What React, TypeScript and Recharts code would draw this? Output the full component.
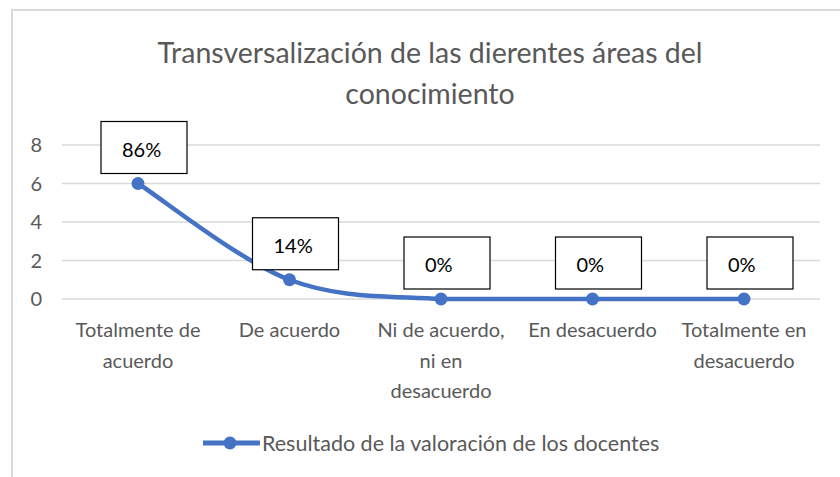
import { CartesianGrid, LabelList, Line, LineChart, XAxis, YAxis } from 'recharts';

const categories = [
  'Totalmente de\nacuerdo',
  'De acuerdo',
  'Ni de acuerdo,\nni en\ndesacuerdo',
  'En desacuerdo',
  'Totalmente en\ndesacuerdo',
];
const valores = [6, 1, 0, 0, 0];
const porcentajes = ['86%', '14%', '0%', '0%', '0%'];
const yTicks = [0, 2, 4, 6, 8];

const seriesName = 'Resultado de la valoración de los docentes';
const titleLines = ['Transversalización de las dierentes áreas del', 'conocimiento'];

const data = categories.map((name, i) => ({ name, value: valores[i], label: porcentajes[i] }));

const FONT = 'Lato, "Noto Sans", sans-serif';
const GRAY = '#595959';
const BLUE = '#4472C4';

const clamp = (v: number, a: number, b: number) => Math.min(Math.max(v, Math.min(a, b)), Math.max(a, b));

// smoothed line like the office "smooth line" option (catmull-rom as bezier, no overshoot)
const smoothCurve = (context: any) => {
  let pts: number[][] = [];
  return {
    areaStart() {},
    areaEnd() {},
    lineStart() {
      pts = [];
    },
    point(x: number, y: number) {
      pts.push([+x, +y]);
    },
    lineEnd() {
      const n = pts.length;
      if (!n) return;
      context.moveTo(pts[0][0], pts[0][1]);
      for (let i = 0; i < n - 1; i++) {
        const p0 = pts[Math.max(i - 1, 0)];
        const p1 = pts[i];
        const p2 = pts[i + 1];
        const p3 = pts[Math.min(i + 2, n - 1)];
        context.bezierCurveTo(
          p1[0] + (p2[0] - p0[0]) / 6,
          clamp(p1[1] + (p2[1] - p0[1]) / 6, p1[1], p2[1]),
          p2[0] - (p3[0] - p1[0]) / 6,
          clamp(p2[1] - (p3[1] - p1[1]) / 6, p1[1], p2[1]),
          p2[0],
          p2[1],
        );
      }
    },
  };
};

const CategoryTick = (props: any) => {
  const { x, y, payload } = props;
  const lines = String(payload.value).split('\n');
  return (
    <text x={x} y={y} textAnchor="middle" fill={GRAY} fontFamily={FONT} fontSize={20}>
      {lines.map((line, i) => (
        <tspan key={i} x={x} dy={i === 0 ? 30 : 30.5}>
          {line}
        </tspan>
      ))}
    </text>
  );
};

const BoxLabel = (props: any) => {
  const { x, y, value } = props;
  const w = 86;
  const h = 52;
  const left = x - 37;
  const top = y - 62;
  return (
    <g>
      <rect x={left} y={top} width={w} height={h} fill="#fff" stroke="#000" strokeWidth={1.2} />
      <text x={left + 21} y={top + 27} dominantBaseline="central" fill="#000" fontFamily={FONT} fontSize={20}>
        {value}
      </text>
    </g>
  );
};

const App = () => {
  return (
    <div style={{ position: 'absolute', left: 0, top: 0, width: 840, height: 477, background: '#fff', overflow: 'hidden' }}>
      <div
        style={{
          position: 'absolute',
          left: 11,
          top: 9,
          right: -10,
          bottom: -10,
          borderTop: '2px solid #d9d9d9',
          borderLeft: '2px solid #d9d9d9',
        }}
      />
      <div
        style={{
          position: 'absolute',
          left: 0,
          top: 32,
          width: 860,
          textAlign: 'center',
          fontFamily: FONT,
          fontSize: 28.5,
          lineHeight: '41px',
          color: GRAY,
        }}
      >
        {titleLines.map((t) => (
          <div key={t}>{t}</div>
        ))}
      </div>
      <div style={{ position: 'absolute', left: 0, top: 0 }}>
        <LineChart width={840} height={477} data={data} margin={{ top: 145, right: 20, bottom: 108, left: 12 }}>
          <CartesianGrid vertical={false} stroke="#d9d9d9" strokeWidth={1.5} />
          <XAxis
            dataKey="name"
            axisLine={false}
            tickLine={false}
            interval={0}
            height={70}
            padding={{ left: 76, right: 76 }}
            tick={<CategoryTick />}
          />
          <YAxis
            domain={[0, 8]}
            ticks={yTicks}
            axisLine={false}
            tickLine={false}
            width={50}
            tickMargin={14}
            tick={{ fill: GRAY, fontSize: 20, fontFamily: FONT }}
          />
          <Line
            type={smoothCurve as any}
            dataKey="value"
            stroke={BLUE}
            strokeWidth={4.5}
            dot={{ r: 6.5, fill: BLUE, stroke: BLUE, strokeWidth: 0 }}
            isAnimationActive={false}
          >
            <LabelList dataKey="label" content={<BoxLabel />} />
          </Line>
        </LineChart>
      </div>
      <div
        style={{
          position: 'absolute',
          left: 203,
          top: 430,
          height: 26,
          display: 'flex',
          alignItems: 'center',
          fontFamily: FONT,
          fontSize: 21.5,
          color: GRAY,
          whiteSpace: 'nowrap',
        }}
      >
        <svg width={57} height={16} style={{ marginRight: 2 }}>
          <line x1={0} y1={8} x2={56} y2={8} stroke={BLUE} strokeWidth={5} strokeLinecap="round" />
          <circle cx={27} cy={8} r={6.5} fill={BLUE} />
        </svg>
        <span>{seriesName}</span>
      </div>
    </div>
  );
};

export default App;
